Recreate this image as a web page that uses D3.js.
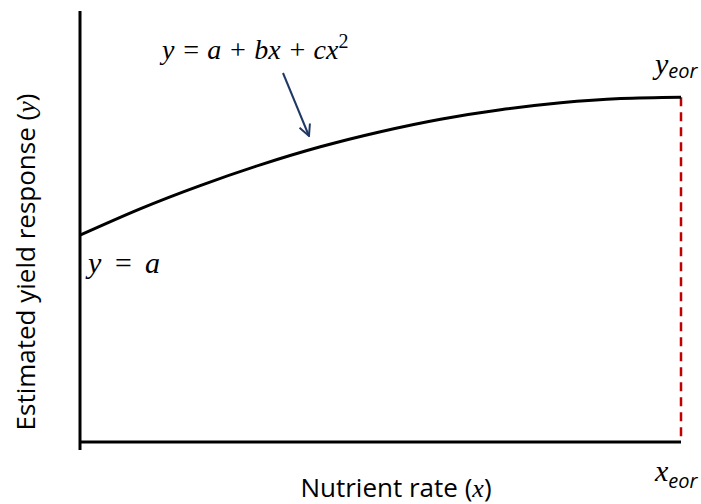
<!DOCTYPE html>
<html>
<head>
<meta charset="utf-8">
<script src="https://cdn.jsdelivr.net/npm/d3@7"></script>
<style>
  body { margin: 0; background: #fff; }
  .sans { font-family: "Open Sans", "Noto Sans", sans-serif; }
  .math { font-family: "Liberation Serif", "DejaVu Serif", serif; font-style: italic; }
</style>
</head>
<body>
<div id="chart"></div>
<script>
// response curve (x: 0..10, y: 0..100)
var rate = [0, 1, 2, 3, 4, 5, 6, 7, 8, 9, 10];
var yieldResp = [48, 54.1, 59.5, 64.3, 68.5, 72, 74.9, 77.1, 78.7, 79.7, 80];
var xEor = 10, yEor = 80, aVal = 48;

var width = 701, height = 504;
var margin = {top: 11, right: 20, bottom: 62, left: 80};

var svg = d3.select("#chart")
  .append("svg")
    .attr("width", width)
    .attr("height", height);

var x = d3.scaleLinear()
  .domain([0, 10])
  .range([margin.left, 681]);

var y = d3.scaleLinear()
  .domain([0, 100])
  .range([442, margin.top]);

// axes (plain lines, no ticks)
svg.append("line")
  .attr("x1", x(0)).attr("x2", x(0))
  .attr("y1", y(100)).attr("y2", y(0) + 8)
  .attr("stroke", "#000").attr("stroke-width", 3);
svg.append("line")
  .attr("x1", x(0)).attr("x2", x(xEor))
  .attr("y1", y(0)).attr("y2", y(0))
  .attr("stroke", "#000").attr("stroke-width", 3);

// dashed red line at x_eor
svg.append("line")
  .attr("x1", x(xEor)).attr("x2", x(xEor))
  .attr("y1", y(yEor)).attr("y2", y(0))
  .attr("stroke", "#c00000").attr("stroke-width", 2.5)
  .attr("stroke-dasharray", "9,6");

// the curve
var line = d3.line()
  .x(function(d, i) { return x(rate[i]); })
  .y(function(d) { return y(d); })
  .curve(d3.curveNatural);

svg.append("path")
  .datum(yieldResp)
  .attr("d", line)
  .attr("fill", "none")
  .attr("stroke", "#000")
  .attr("stroke-width", 3);

// arrow
svg.append("defs").append("marker")
  .attr("id", "arr")
  .attr("viewBox", "0 0 10 10")
  .attr("refX", 9).attr("refY", 5)
  .attr("markerWidth", 7).attr("markerHeight", 7)
  .attr("orient", "auto")
  .append("path")
    .attr("d", "M1,1 L9,5 L1,9")
    .attr("fill", "none")
    .attr("stroke", "#1f3864")
    .attr("stroke-width", 1.4);

svg.append("line")
  .attr("x1", 283).attr("y1", 73)
  .attr("x2", 309).attr("y2", 136)
  .attr("stroke", "#1f3864").attr("stroke-width", 2)
  .attr("marker-end", "url(#arr)");

// equation labels
var eq = svg.append("text").attr("class", "math")
  .attr("x", 162).attr("y", 59)
  .attr("font-size", 28);
eq.append("tspan").text("y = a + bx + cx");
eq.append("tspan").attr("dy", -11).attr("font-size", 20).attr("font-style", "normal").text("2");

svg.append("text").attr("class", "math")
  .attr("x", 88).attr("y", 273)
  .attr("font-size", 30)
  .attr("textLength", 72).attr("lengthAdjust", "spacing")
  .text("y = a");

var ye = svg.append("text").attr("class", "math")
  .attr("x", 655).attr("y", 74)
  .attr("font-size", 30);
ye.append("tspan").text("y");
ye.append("tspan").attr("class", "sans").attr("font-style", "italic")
  .attr("font-size", 20).attr("dy", 4).text("eor");

var xe = svg.append("text").attr("class", "math")
  .attr("x", 655).attr("y", 481)
  .attr("font-size", 30);
xe.append("tspan").text("x");
xe.append("tspan").attr("class", "sans").attr("font-style", "italic")
  .attr("font-size", 20).attr("dy", 7).text("eor");

// axis titles
var xt = svg.append("text").attr("class", "sans")
  .attr("x", 396).attr("y", 497)
  .attr("text-anchor", "middle")
  .attr("font-size", 26);
xt.append("tspan").text("Nutrient rate (");
xt.append("tspan").attr("class", "math").text("x");
xt.append("tspan").text(")");

var yt = svg.append("text").attr("class", "sans")
  .attr("transform", "translate(35,262) rotate(-90)")
  .attr("text-anchor", "middle")
  .attr("font-size", 26);
yt.append("tspan").text("Estimated yield response (");
yt.append("tspan").attr("class", "math").text("y");
yt.append("tspan").text(")");
</script>
</body>
</html>
